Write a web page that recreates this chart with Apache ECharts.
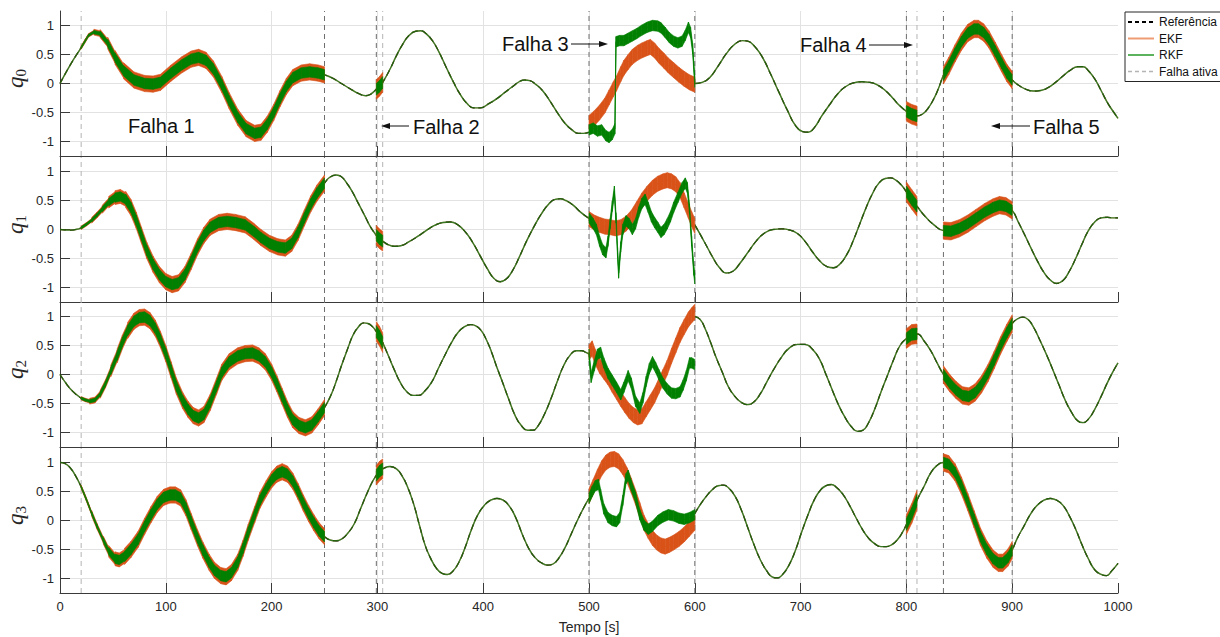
<!DOCTYPE html>
<html>
<head>
<meta charset="utf-8">
<script src="https://cdn.jsdelivr.net/npm/echarts@6/dist/echarts.min.js"></script>
<style>
  html, body { margin: 0; padding: 0; background: #fff; }
  #chart { width: 1220px; height: 637px; }
</style>
</head>
<body>
<div id="chart"></div>
<script>
// ---- Reference attitude quaternion, [time s, value] ----
const q0Ref = [[0,0],[10,0.33],[20,0.62],[27,0.83],[32,0.885],[38,0.86],[45,0.7],[52,0.45],[60,0.22],[70,0.06],[80,0.0],[88,-0.01],[95,0.02],[105,0.18],[115,0.32],[124,0.42],[131,0.45],[138,0.4],[145,0.25],[153,-0.02],[160,-0.3],[168,-0.58],[176,-0.78],[184,-0.86],[190,-0.84],[196,-0.7],[202,-0.5],[208,-0.26],[214,-0.05],[220,0.1],[228,0.18],[236,0.2],[244,0.18],[250,0.15],[258,0.09],[266,0.0],[275,-0.1],[283,-0.18],[289,-0.21],[294,-0.18],[299,-0.1],[302,-0.05],[305,0.02],[312,0.25],[318,0.48],[324,0.68],[330,0.83],[336,0.9],[341,0.91],[346,0.86],[352,0.74],[358,0.55],[365,0.28],[372,0.02],[378,-0.18],[385,-0.35],[391,-0.42],[397,-0.42],[405,-0.35],[413,-0.26],[420,-0.16],[428,-0.05],[434,0.03],[439,0.06],[444,0.05],[450,-0.02],[456,-0.12],[463,-0.3],[470,-0.5],[477,-0.68],[484,-0.8],[490,-0.86],[495,-0.86],[500,-0.84],
  [600,0.0],[607,0.02],[614,0.1],[622,0.3],[630,0.52],[638,0.68],[645,0.74],[650,0.73],[657,0.63],[664,0.45],[672,0.15],[680,-0.17],[688,-0.48],[695,-0.72],[702,-0.83],[707,-0.84],[713,-0.76],[720,-0.56],[728,-0.35],[735,-0.18],[742,-0.06],[750,0.01],[758,0.03],[765,0.02],[772,-0.02],[780,-0.12],[787,-0.25],[793,-0.37],[800,-0.48],[805,-0.53],[810,-0.56],[815,-0.53],[820,-0.44],[826,-0.26],[830,-0.1],[835,0.14],[840,0.3],[846,0.52],[852,0.72],[858,0.87],[864,0.94],[868,0.94],[873,0.88],[878,0.76],[884,0.56],[890,0.35],[895,0.18],[900,0.06],[906,-0.03],[913,-0.1],[920,-0.13],[927,-0.12],[934,-0.07],[941,0.02],[948,0.13],[955,0.23],[962,0.29],[967,0.29],[972,0.22],[978,0.08],[984,-0.12],[990,-0.33],[995,-0.47],[1000,-0.6]];

const q1Ref = [[0,0],[10,-0.01],[15,0.0],[20,0.03],[25,0.09],[30,0.16],[35,0.25],[40,0.35],[46,0.47],[52,0.55],[57,0.57],[62,0.52],[67,0.38],[72,0.16],[77,-0.1],[82,-0.36],[88,-0.6],[94,-0.78],[100,-0.9],[106,-0.95],[112,-0.92],[118,-0.78],[124,-0.55],[130,-0.3],[136,-0.1],[142,0.04],[150,0.12],[158,0.14],[166,0.12],[175,0.08],[183,-0.03],[190,-0.14],[198,-0.24],[206,-0.3],[213,-0.32],[219,-0.24],[225,-0.05],[231,0.2],[237,0.44],[243,0.63],[250,0.8],[255,0.9],[261,0.94],[266,0.91],[271,0.8],[276,0.66],[282,0.45],[288,0.24],[293,0.06],[299,-0.1],[302,-0.16],[305,-0.2],[310,-0.26],[316,-0.29],[322,-0.28],[330,-0.21],[338,-0.12],[346,-0.02],[354,0.07],[362,0.12],[369,0.13],[376,0.08],[383,-0.04],[390,-0.22],[397,-0.45],[404,-0.68],[410,-0.84],[416,-0.9],[422,-0.85],[428,-0.7],[434,-0.48],[441,-0.2],[448,0.05],[455,0.27],[462,0.44],[468,0.52],[473,0.53],[478,0.5],[485,0.42],[492,0.3],[500,0.19],
  [600,0.08],[605,-0.08],[611,-0.28],[617,-0.48],[623,-0.65],[630,-0.75],[636,-0.72],[642,-0.6],[650,-0.4],[658,-0.2],[666,-0.06],[674,0.0],[682,0.01],[690,-0.01],[697,-0.07],[704,-0.2],[711,-0.38],[718,-0.54],[725,-0.64],[731,-0.66],[737,-0.6],[744,-0.42],[750,-0.18],[756,0.1],[762,0.38],[768,0.62],[774,0.8],[780,0.88],[785,0.89],[790,0.85],[795,0.77],[800,0.65],[805,0.52],[810,0.4],[818,0.22],[826,0.08],[835,-0.02],[842,-0.03],[850,0.02],[858,0.1],[866,0.2],[874,0.3],[882,0.38],[888,0.42],[894,0.4],[900,0.33],[906,0.12],[912,-0.1],[918,-0.33],[924,-0.55],[930,-0.74],[936,-0.87],[942,-0.93],[948,-0.88],[954,-0.72],[960,-0.5],[966,-0.25],[972,-0.02],[978,0.13],[984,0.2],[990,0.21],[995,0.2],[1000,0.2]];

const q2Ref = [[0,0],[6,-0.16],[12,-0.29],[20,-0.41],[24,-0.44],[28,-0.46],[33,-0.44],[38,-0.34],[43,-0.16],[48,0.06],[54,0.32],[59,0.56],[64,0.76],[70,0.92],[75,0.98],[80,0.99],[85,0.93],[90,0.8],[95,0.6],[100,0.36],[105,0.08],[110,-0.2],[116,-0.45],[121,-0.6],[126,-0.71],[131,-0.75],[136,-0.69],[142,-0.48],[148,-0.2],[153,0.04],[160,0.22],[168,0.32],[175,0.36],[182,0.37],[188,0.32],[194,0.22],[200,0.04],[205,-0.16],[210,-0.38],[215,-0.6],[220,-0.78],[226,-0.88],[232,-0.92],[238,-0.87],[244,-0.73],[250,-0.57],[256,-0.36],[261,-0.12],[266,0.15],[272,0.45],[277,0.68],[282,0.82],[287,0.89],[291,0.88],[295,0.83],[299,0.74],[302,0.66],[305,0.55],[310,0.34],[316,0.08],[322,-0.15],[328,-0.3],[334,-0.36],[339,-0.36],[345,-0.28],[352,-0.11],[358,0.12],[364,0.34],[370,0.55],[376,0.72],[382,0.82],[388,0.86],[393,0.84],[398,0.76],[403,0.6],[408,0.38],[413,0.12],[418,-0.12],[424,-0.42],[430,-0.7],[436,-0.88],[442,-0.96],[447,-0.96],[452,-0.88],[458,-0.68],[464,-0.42],[470,-0.12],[476,0.15],[482,0.33],[488,0.41],[493,0.41],[497,0.38],[500,0.35],
  [600,1.0],[605,0.95],[610,0.78],[615,0.55],[620,0.3],[626,0.04],[632,-0.22],[638,-0.38],[644,-0.48],[650,-0.52],[656,-0.47],[662,-0.33],[668,-0.13],[675,0.1],[682,0.3],[689,0.45],[697,0.52],[704,0.52],[711,0.44],[718,0.26],[724,0.0],[730,-0.27],[736,-0.53],[742,-0.74],[748,-0.9],[754,-0.98],[759,-0.96],[764,-0.84],[770,-0.6],[776,-0.3],[782,-0.02],[788,0.26],[794,0.5],[800,0.62],[805,0.69],[810,0.7],[817,0.57],[823,0.41],[829,0.2],[835,0.0],[841,-0.15],[847,-0.27],[853,-0.36],[859,-0.38],[865,-0.31],[871,-0.17],[877,0.02],[883,0.25],[889,0.5],[895,0.72],[900,0.88],[905,0.96],[910,0.99],[915,0.95],[920,0.82],[926,0.6],[932,0.36],[938,0.1],[944,-0.17],[950,-0.44],[956,-0.65],[962,-0.8],[967,-0.83],[972,-0.77],[978,-0.6],[984,-0.38],[990,-0.14],[995,0.04],[1000,0.2]];

const q3Ref = [[0,1.0],[5,0.98],[10,0.9],[15,0.76],[20,0.58],[25,0.36],[30,0.12],[35,-0.1],[41,-0.34],[46,-0.53],[52,-0.66],[56,-0.68],[61,-0.62],[67,-0.5],[74,-0.32],[80,-0.1],[86,0.1],[92,0.28],[98,0.4],[104,0.44],[109,0.44],[114,0.39],[119,0.22],[124,-0.02],[130,-0.3],[135,-0.51],[141,-0.72],[146,-0.86],[152,-0.95],[157,-0.97],[162,-0.9],[168,-0.72],[173,-0.48],[178,-0.2],[184,0.1],[189,0.35],[195,0.55],[200,0.7],[205,0.8],[210,0.84],[215,0.8],[220,0.68],[225,0.5],[230,0.3],[235,0.12],[240,-0.04],[245,-0.18],[250,-0.28],[256,-0.34],[261,-0.35],[267,-0.31],[272,-0.22],[278,-0.06],[284,0.2],[290,0.46],[295,0.66],[299,0.78],[302,0.85],[305,0.89],[312,0.93],[318,0.89],[323,0.78],[328,0.6],[334,0.3],[340,-0.1],[345,-0.42],[350,-0.64],[356,-0.83],[361,-0.91],[366,-0.93],[371,-0.88],[377,-0.72],[383,-0.46],[389,-0.15],[395,0.1],[401,0.26],[407,0.35],[413,0.38],[419,0.35],[425,0.24],[431,0.04],[437,-0.24],[443,-0.48],[449,-0.64],[455,-0.73],[461,-0.77],[466,-0.75],[471,-0.66],[477,-0.48],[483,-0.24],[489,0.0],[495,0.22],[500,0.38],
  [600,0.12],[605,0.27],[611,0.42],[617,0.54],[622,0.6],[627,0.61],[632,0.56],[638,0.42],[644,0.18],[650,-0.12],[656,-0.42],[662,-0.68],[668,-0.87],[673,-0.97],[678,-0.99],[683,-0.93],[689,-0.77],[695,-0.52],[701,-0.2],[707,0.1],[713,0.36],[719,0.53],[724,0.6],[729,0.62],[734,0.57],[740,0.45],[746,0.27],[752,0.06],[758,-0.14],[764,-0.3],[770,-0.4],[776,-0.45],[781,-0.45],[786,-0.42],[792,-0.32],[797,-0.18],[800,-0.07],[805,0.12],[810,0.35],[817,0.6],[823,0.82],[829,0.95],[835,1.0],[840,0.97],[846,0.83],[852,0.6],[858,0.32],[864,0.02],[870,-0.28],[876,-0.5],[882,-0.66],[887,-0.73],[891,-0.73],[896,-0.64],[900,-0.51],[905,-0.3],[911,-0.1],[917,0.1],[923,0.25],[930,0.35],[936,0.38],[942,0.35],[948,0.26],[954,0.08],[960,-0.15],[966,-0.42],[972,-0.66],[978,-0.85],[984,-0.93],[989,-0.95],[994,-0.87],[1000,-0.74]];

// ---- Filter estimates during fault 3 (500-600 s), where EKF and RKF diverge ----
const ekfQ0F3 = [[500,-0.68],[505,-0.6],[510,-0.5],[515,-0.38],[519,-0.24],[523,-0.1],[526,0.0],[530,0.16],[533,0.27],[537,0.37],[541,0.46],[546,0.53],[550,0.57],[555,0.61],[558,0.63],[562,0.57],[566,0.48],[571,0.39],[575,0.31],[580,0.23],[585,0.15],[590,0.08],[595,0.02],[600,-0.02]];
const rkfQ0F3 = [[500,-0.8],[504,-0.77],[508,-0.82],[512,-0.8],[516,-0.9],[519,-0.93],[522,-0.88],[524.5,-0.78],[525.5,0.72],[529,0.74],[533,0.74],[537,0.78],[541,0.82],[545,0.86],[550,0.92],[555,0.97],[560,1.0],[565,0.99],[568,0.96],[572,0.88],[576,0.79],[580,0.73],[584,0.7],[588,0.73],[591,0.83],[594,0.97],[596,0.88],[598,0.6],[600,0.02]];
const ekfQ1F3 = [[500,0.18],[505,0.12],[510,0.08],[515,0.05],[520,0.04],[525,0.02],[530,0.04],[535,0.1],[540,0.2],[545,0.35],[550,0.5],[555,0.62],[560,0.72],[565,0.79],[570,0.83],[574,0.85],[578,0.83],[582,0.78],[586,0.68],[590,0.5],[594,0.32],[597,0.18],[600,0.06]];
const rkfQ1F3 = [[500,0.2],[504,0.1],[507,0.0],[510,-0.2],[513,-0.35],[516,-0.4],[518,-0.2],[520,0.1],[522,0.4],[524,0.66],[525.5,0.2],[527,-0.4],[528,-0.75],[530,-0.3],[532,0.0],[535,0.15],[538,0.1],[541,0.0],[544,0.1],[547,0.3],[550,0.45],[553,0.52],[556,0.38],[559,0.22],[562,0.12],[565,0.04],[568,-0.05],[571,0.0],[574,0.1],[577,0.22],[580,0.38],[584,0.55],[588,0.72],[591,0.8],[593,0.72],[595,0.35],[597,-0.2],[599,-0.7],[600,-0.85]];
const ekfQ2F3 = [[500,0.38],[503,0.45],[506,0.3],[510,0.15],[514,0.05],[518,-0.05],[522,-0.18],[526,-0.3],[530,-0.42],[534,-0.53],[538,-0.63],[542,-0.7],[546,-0.74],[550,-0.72],[554,-0.6],[558,-0.48],[562,-0.36],[566,-0.2],[570,-0.04],[574,0.12],[578,0.32],[582,0.5],[586,0.68],[590,0.82],[594,0.95],[597,1.02],[600,1.08]];
const rkfQ2F3 = [[500,0.35],[502,-0.05],[505,0.15],[508,0.35],[511,0.38],[514,0.2],[518,0.02],[522,-0.1],[526,-0.22],[530,-0.35],[533,-0.22],[537,-0.02],[540,-0.15],[544,-0.46],[548,-0.58],[551,-0.4],[554,-0.12],[557,0.1],[560,0.22],[563,0.12],[566,0.0],[570,-0.15],[574,-0.25],[578,-0.32],[582,-0.33],[586,-0.3],[589,-0.18],[592,-0.02],[595,0.2],[597,0.2],[600,0.17]];
const ekfQ3F3 = [[500,0.42],[504,0.58],[508,0.75],[512,0.9],[516,1.0],[520,1.05],[524,1.06],[528,1.02],[532,0.92],[536,0.78],[540,0.6],[544,0.4],[548,0.18],[552,-0.04],[556,-0.18],[560,-0.3],[564,-0.38],[568,-0.43],[572,-0.45],[576,-0.42],[580,-0.38],[585,-0.32],[590,-0.24],[595,-0.14],[600,-0.04]];
const rkfQ3F3 = [[500,0.38],[503,0.5],[506,0.6],[509,0.62],[511,0.45],[514,0.2],[518,0.05],[522,0.0],[526,-0.02],[529,0.05],[532,0.35],[535,0.72],[537,0.78],[540,0.6],[544,0.4],[548,0.1],[552,-0.08],[556,-0.15],[560,-0.1],[565,0.0],[570,0.06],[575,0.1],[580,0.08],[585,0.04],[590,0.02],[595,0.05],[600,0.1]];

// ---- Fault timing ----
// windows where both filters scatter around the reference
const noiseWindows = [[20,250],[299,305],[800,810],[835,900]];
// estimator scatter (half-width) from each start time: [t, EKF, RKF]
const noiseSteps = [[20,0.03,0.02],[28,0.05,0.03],[36,0.07,0.045],[44,0.1,0.065],[52,0.12,0.08],[60,0.14,0.09],[299,0.17,0.1],[500,0.13,0.09],[800,0.17,0.1],[835,0.15,0.09]];
// vertical markers of active faults
const faultEdgesLight = [20,305,810];
const faultEdgesDark = [250,299,500,600,800,835,900];

// x ticks
const timeMin = 0, timeMax = 1000, timeStep = 100;

const refs = [q0Ref, q1Ref, q2Ref, q3Ref];
const ekfF3 = [ekfQ0F3, ekfQ1F3, ekfQ2F3, ekfQ3F3];
const rkfF3 = [rkfQ0F3, rkfQ1F3, rkfQ2F3, rkfQ3F3];

const FONT = '"Liberation Sans", Arial, Helvetica, sans-serif';
const SERIF = '"Liberation Serif", "DejaVu Serif", serif';
const AXIS = '#3a3a3a';
const GRIDC = '#e2e2e2';
const ORANGE = '#D95319';
const GREEN = '#008000';
const GRID_TOPS = [11, 157, 302, 448];
const GRID_H = 145;
const NOFILL = 'rgba(0,0,0,0)';

// reference-following trace, interrupted over fault 3
function withFault3Gap(pts) {
  const out = [];
  pts.forEach((p, i) => {
    out.push(p);
    if (p[0] === 500 && pts[i + 1] && pts[i + 1][0] === 600) out.push([550, '-']);
  });
  return out;
}

function spreadAt(t, col) {
  let v = 0;
  noiseSteps.forEach(s => { if (s[0] <= t) v = s[col]; });
  return v;
}

// quads [t0, lo0, hi0, t1, lo1, hi1] covering the scatter of one estimator
function bandRows(ref, f3, col) {
  const rows = [];
  const seg = (a, b) => {
    const s = spreadAt(a[0], col);
    rows.push([a[0], a[1] - s, a[1] + s, b[0], b[1] - s, b[1] + s]);
  };
  noiseWindows.forEach(([a, b]) => {
    const pts = ref.filter(p => p[0] >= a && p[0] <= b);
    for (let i = 0; i < pts.length - 1; i++) seg(pts[i], pts[i + 1]);
  });
  for (let i = 0; i < f3.length - 1; i++) seg(f3[i], f3[i + 1]);
  return rows;
}

function edgeLines(times) {
  const d = [];
  times.forEach(t => { d.push([t, -1.25], [t, 1.25], [t, '-']); });
  return d;
}

function bandSeries(name, k, rows, color, z) {
  return {
    name, type: 'custom', xAxisIndex: k, yAxisIndex: k, z, silent: true,
    encode: { x: [0, 3], y: [1, 2, 4, 5] },
    data: rows,
    renderItem: (params, api) => {
      const a = api.coord([api.value(0), api.value(1)]);
      const b = api.coord([api.value(3), api.value(4)]);
      const c = api.coord([api.value(3), api.value(5)]);
      const d = api.coord([api.value(0), api.value(2)]);
      return {
        type: 'polygon',
        shape: { points: [a, b, c, d] },
        style: { fill: color, stroke: color, lineWidth: 0.6 }
      };
    }
  };
}

const grids = [], xAxes = [], yAxes = [], series = [];
for (let k = 0; k < 4; k++) {
  grids.push({ left: 60, right: 102, top: GRID_TOPS[k], height: GRID_H, containLabel: false, outerBoundsMode: 'none' });
  const last = k === 3;
  xAxes.push({
    type: 'value', gridIndex: k, min: timeMin, max: timeMax, interval: timeStep,
    name: last ? 'Tempo [s]' : '', nameLocation: 'middle', nameGap: 27,
    nameTextStyle: { fontFamily: FONT, fontSize: 14, color: '#262626' },
    axisLine: { show: true, onZero: false, lineStyle: { color: AXIS, width: 1 } },
    axisTick: { show: true, inside: true, length: 10, lineStyle: { color: AXIS } },
    axisLabel: { show: last, fontFamily: FONT, fontSize: 13, color: '#262626', margin: 7, formatter: v => String(v) },
    splitLine: { show: true, showMinLine: false, showMaxLine: false, lineStyle: { color: GRIDC, width: 1 } }
  });
  yAxes.push({
    type: 'value', gridIndex: k, min: -1.25, max: 1.25, splitNumber: 5,
    axisLine: { show: true, lineStyle: { color: AXIS, width: 1 } },
    axisTick: { show: true, inside: true, length: 10, lineStyle: { color: AXIS } },
    axisLabel: { fontFamily: FONT, fontSize: 13, color: '#262626', margin: 6, showMinLabel: false, showMaxLabel: false, formatter: v => String(v) },
    splitLine: { show: true, showMinLine: false, showMaxLine: false, lineStyle: { color: GRIDC, width: 1 } }
  });

  const ax = { xAxisIndex: k, yAxisIndex: k, symbol: 'none', silent: true };
  const trace = withFault3Gap(refs[k]);
  series.push({ ...ax, name: 'Falha ativa', type: 'line', z: 1, data: edgeLines(faultEdgesLight),
    itemStyle: { color: '#b4b4b4' }, lineStyle: { color: '#b4b4b4', width: 1, type: [5, 4] } });
  series.push({ ...ax, name: 'Falha ativa', type: 'line', z: 1, data: edgeLines(faultEdgesDark),
    itemStyle: { color: '#6e6e6e' }, lineStyle: { color: '#6e6e6e', width: 1, type: [5, 4] } });
  series.push({ ...ax, name: 'Referência', type: 'line', z: 2, data: trace, smooth: 0.5,
    itemStyle: { color: '#000' }, lineStyle: { color: '#000', width: 1.2, type: [6, 4] } });
  series.push({ ...ax, name: 'EKF', type: 'line', z: 3, data: trace, smooth: 0.5,
    itemStyle: { color: ORANGE }, lineStyle: { color: ORANGE, width: 1.4, opacity: 0.5 } });
  series.push({ ...ax, name: 'RKF', type: 'line', z: 4, data: trace, smooth: 0.5,
    itemStyle: { color: GREEN }, lineStyle: { color: '#0d6e0d', width: 1.4, opacity: 0.8 } });
  series.push({ ...ax, name: 'EKF', type: 'line', z: 5, data: ekfF3[k],
    itemStyle: { color: ORANGE }, lineStyle: { color: ORANGE, width: 1 } });
  series.push({ ...ax, name: 'RKF', type: 'line', z: 5, data: rkfF3[k],
    itemStyle: { color: GREEN }, lineStyle: { color: GREEN, width: 1 } });
  series.push(bandSeries('EKF', k, bandRows(refs[k], ekfF3[k], 1), ORANGE, 6));
  series.push(bandSeries('RKF', k, bandRows(refs[k], rkfF3[k], 2), GREEN, 7));
}

const graphics = [];

// panel titles q0..q3, rotated along the left edge
for (let k = 0; k < 4; k++) {
  graphics.push({
    type: 'text', x: 15, y: GRID_TOPS[k] + GRID_H / 2 - 5, rotation: Math.PI / 2, z: 100,
    style: {
      text: '{q|q}{s|' + k + '}', align: 'center', verticalAlign: 'middle',
      rich: {
        q: { fontFamily: SERIF, fontStyle: 'italic', fontSize: 23, fill: '#262626', lineHeight: 26, verticalAlign: 'middle' },
        s: { fontFamily: SERIF, fontSize: 15, fill: '#262626', lineHeight: 15, verticalAlign: 'bottom' }
      }
    }
  });
}

// fault annotations on the q0 panel
const labels = [
  { text: 'Falha 1', x: 128, y: 126 },
  { text: 'Falha 2', x: 413, y: 127 },
  { text: 'Falha 3', x: 502, y: 44 },
  { text: 'Falha 4', x: 800, y: 45 },
  { text: 'Falha 5', x: 1033, y: 127 }
];
const arrows = [
  { from: [409, 126], to: [381, 126] },
  { from: [571, 44], to: [608, 44] },
  { from: [869, 45], to: [913, 45] },
  { from: [1030, 126], to: [991, 126] }
];
labels.forEach(l => graphics.push({
  type: 'text', x: l.x, y: l.y, z: 100,
  style: { text: l.text, fill: '#111', font: '20px ' + FONT, verticalAlign: 'middle', align: 'left' }
}));
arrows.forEach(a => {
  const dir = Math.sign(a.to[0] - a.from[0]);
  const L = 9, W = 3;
  graphics.push({ type: 'line', z: 100, shape: { x1: a.from[0], y1: a.from[1], x2: a.to[0] - dir * L, y2: a.to[1] },
    style: { stroke: '#111', lineWidth: 1 } });
  graphics.push({ type: 'polygon', z: 100, shape: { points: [[a.to[0], a.to[1]], [a.to[0] - dir * L, a.to[1] - W], [a.to[0] - dir * L, a.to[1] + W]] },
    style: { fill: '#111' } });
});

const hiddenMark = { color: NOFILL, borderColor: NOFILL, borderWidth: 0 };
const chart = echarts.init(document.getElementById('chart'), null, { renderer: 'svg' });
chart.setOption({
  animation: false,
  backgroundColor: '#fff',
  textStyle: { fontFamily: FONT },
  grid: grids,
  xAxis: xAxes,
  yAxis: yAxes,
  legend: {
    orient: 'vertical', left: 1125, top: 12,
    itemWidth: 26, itemHeight: 11, itemGap: 4.5,
    padding: [4, 3, 4, 2],
    backgroundColor: '#fff', borderColor: '#262626', borderWidth: 1, borderRadius: 0,
    selectedMode: false,
    textStyle: { fontFamily: FONT, fontSize: 12, color: '#111' },
    data: [
      { name: 'Referência', itemStyle: hiddenMark, lineStyle: { color: '#000', width: 2, type: [4, 3], opacity: 1 } },
      { name: 'EKF', itemStyle: hiddenMark, lineStyle: { color: '#EE9C74', width: 2, type: 'solid', opacity: 1 } },
      { name: 'RKF', itemStyle: hiddenMark, lineStyle: { color: '#5DB35D', width: 2, type: 'solid', opacity: 1 } },
      { name: 'Falha ativa', itemStyle: hiddenMark, lineStyle: { color: '#b4b4b4', width: 1.5, type: [4, 3], opacity: 1 } }
    ]
  },
  graphic: graphics,
  series
});
</script>
</body>
</html>
